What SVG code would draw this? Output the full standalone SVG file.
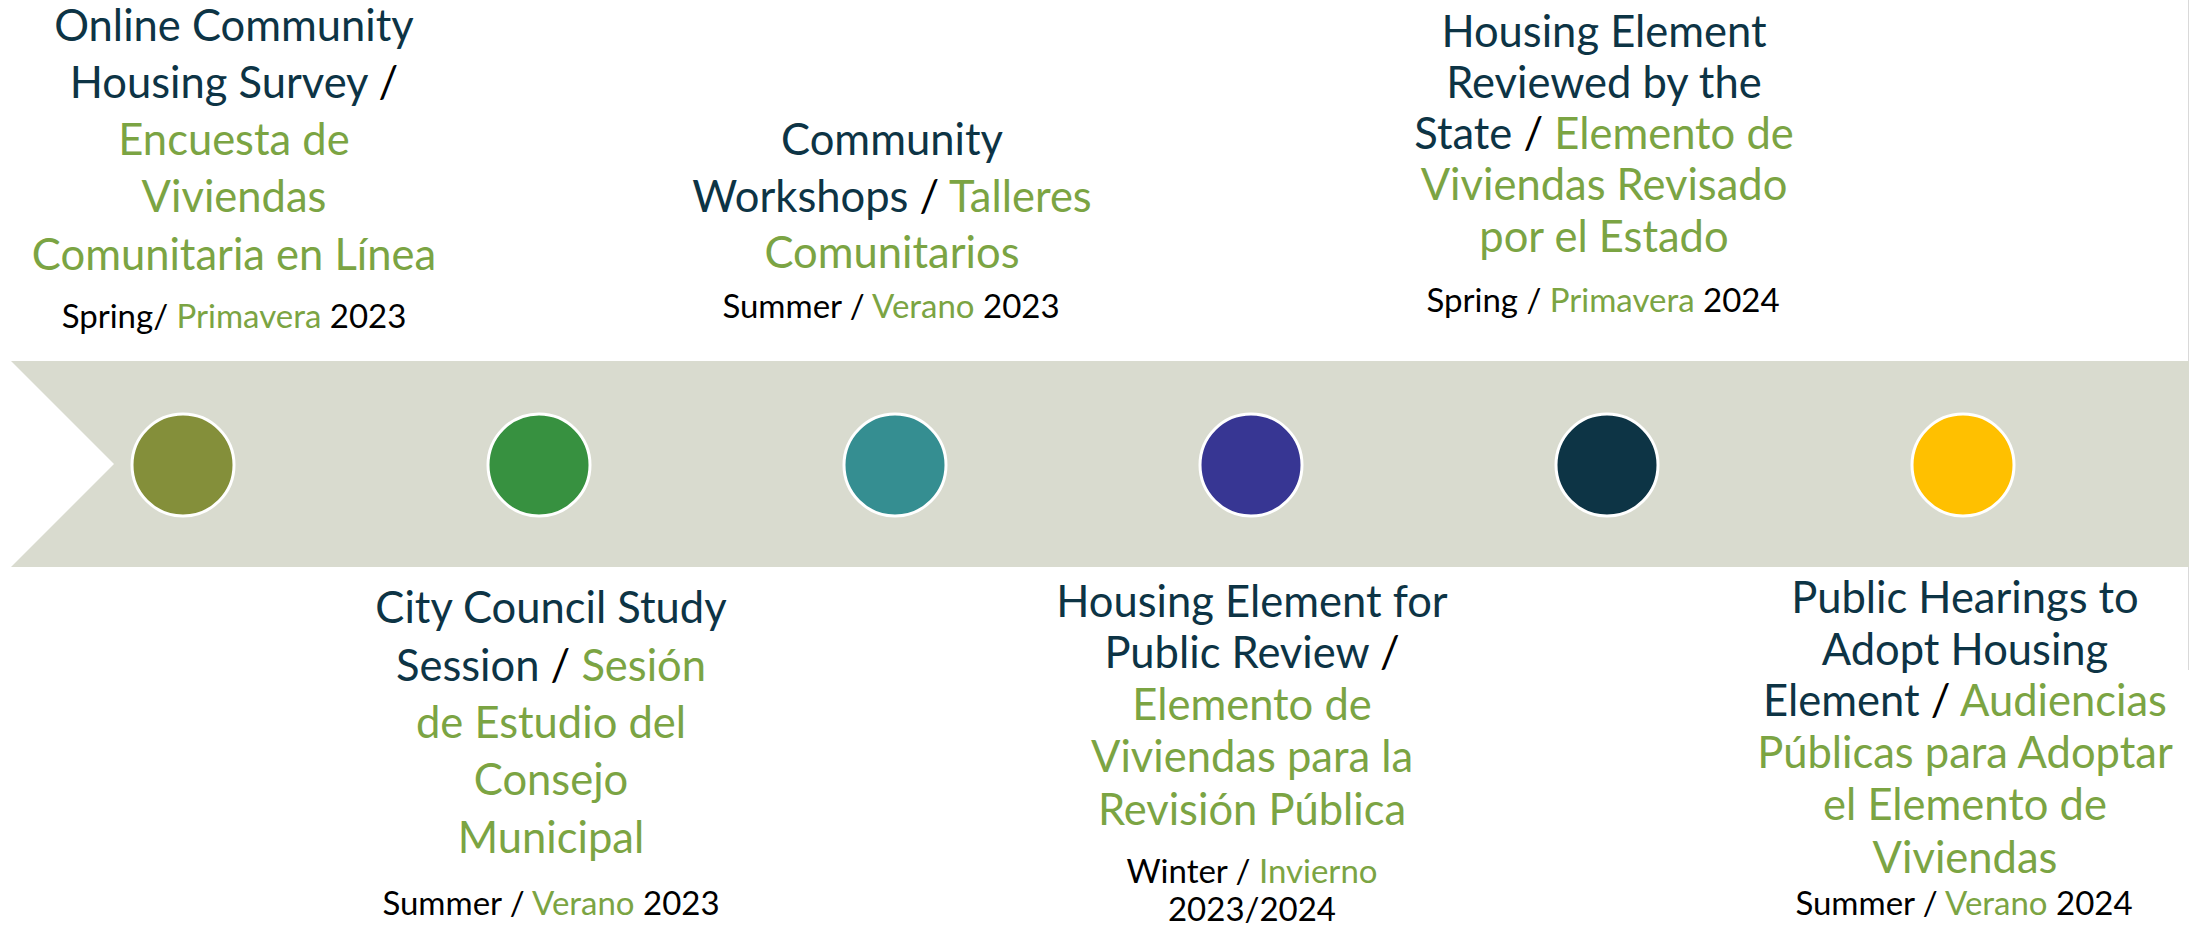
<svg xmlns="http://www.w3.org/2000/svg" width="2190" height="926" viewBox="0 0 2190 926">
<style>
.t{font-family:Lato,"Open Sans","Liberation Sans",sans-serif;font-size:43.5px;text-anchor:middle;fill:#0D3445}
.d{font-family:Lato,"Open Sans","Liberation Sans",sans-serif;font-size:33px;text-anchor:middle;fill:#000}
.g{fill:#7BA443}
.k{fill:#000}
.dot{stroke:#fff;stroke-width:3}
</style>
<rect width="2190" height="926" fill="#fff"/>
<line x1="2188.5" y1="0" x2="2188.5" y2="670" stroke="#D9D9D9" stroke-width="1"/>
<g id="band">
<polygon points="11,361 2189,361 2189,567 11,567 114,464" fill="#D9DBCF"/>
</g>
<g id="connectors"></g>
<g id="node1">
<circle class="dot" cx="183" cy="465" r="51" fill="#848F3A"/>
<text class="t" x="234"><tspan x="234" y="41">Online Community</tspan><tspan x="234" y="98">Housing Survey <tspan class="k">/</tspan></tspan><tspan x="234" y="155" class="g">Encuesta de</tspan><tspan x="234" y="212" class="g">Viviendas</tspan><tspan x="234" y="270" class="g">Comunitaria en Línea</tspan></text>
<text class="d" x="234" y="328">Spring/ <tspan class="g">Primavera</tspan> 2023</text>
</g>
<g id="node2">
<circle class="dot" cx="539" cy="465" r="51" fill="#379140"/>
<text class="t"><tspan x="551" y="623">City Council Study</tspan><tspan x="551" y="681">Session <tspan class="k">/</tspan> <tspan class="g">Sesión</tspan></tspan><tspan x="551" y="738" class="g">de Estudio del</tspan><tspan x="551" y="795" class="g">Consejo</tspan><tspan x="551" y="853" class="g">Municipal</tspan></text>
<text class="d" x="551" y="915">Summer / <tspan class="g">Verano</tspan> 2023</text>
</g>
<g id="node3">
<circle class="dot" cx="895" cy="465" r="51" fill="#358E91"/>
<text class="t"><tspan x="892" y="155">Community</tspan><tspan x="892" y="212">Workshops <tspan class="k">/</tspan> <tspan class="g">Talleres</tspan></tspan><tspan x="892" y="268" class="g">Comunitarios</tspan></text>
<text class="d" x="891" y="318">Summer / <tspan class="g">Verano</tspan> 2023</text>
</g>
<g id="node4">
<circle class="dot" cx="1251" cy="465" r="51" fill="#373693"/>
<text class="t"><tspan x="1252" y="617">Housing Element for</tspan><tspan x="1252" y="668">Public Review <tspan class="k">/</tspan></tspan><tspan x="1252" y="720" class="g">Elemento de</tspan><tspan x="1252" y="772" class="g">Viviendas para la</tspan><tspan x="1252" y="825" class="g">Revisión Pública</tspan></text>
<text class="d"><tspan x="1252" y="883">Winter / <tspan class="g">Invierno</tspan></tspan><tspan x="1252" y="921">2023/2024</tspan></text>
</g>
<g id="node5">
<circle class="dot" cx="1607" cy="465" r="51" fill="#0D3445"/>
<text class="t"><tspan x="1604" y="47">Housing Element</tspan><tspan x="1604" y="98">Reviewed by the</tspan><tspan x="1604" y="149">State <tspan class="k">/</tspan> <tspan class="g">Elemento de</tspan></tspan><tspan x="1604" y="200" class="g">Viviendas Revisado</tspan><tspan x="1604" y="252" class="g">por el Estado</tspan></text>
<text class="d" x="1603" y="312">Spring / <tspan class="g">Primavera</tspan> 2024</text>
</g>
<g id="node6">
<circle class="dot" cx="1963" cy="465" r="51" fill="#FFC000"/>
<text class="t"><tspan x="1965" y="613">Public Hearings to</tspan><tspan x="1965" y="665">Adopt Housing</tspan><tspan x="1965" y="716">Element <tspan class="k">/</tspan> <tspan class="g">Audiencias</tspan></tspan><tspan x="1965" y="768" class="g">Públicas para Adoptar</tspan><tspan x="1965" y="820" class="g">el Elemento de</tspan><tspan x="1965" y="873" class="g">Viviendas</tspan></text>
<text class="d" x="1964" y="915">Summer / <tspan class="g">Verano</tspan> 2024</text>
</g>
</svg>
